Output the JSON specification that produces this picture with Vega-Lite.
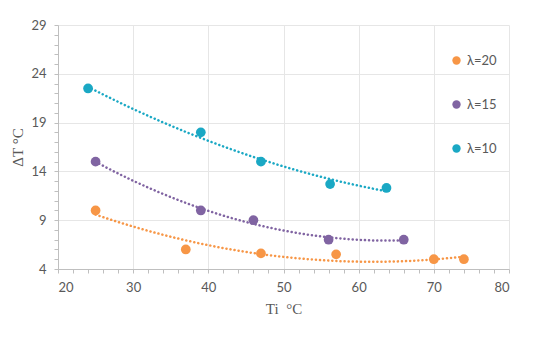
{
  "$schema": "https://vega.github.io/schema/vega-lite/v6.json",
  "width": 451,
  "height": 244,
  "autosize": {"type": "none"},
  "padding": {"left": 58, "top": 25, "right": 41, "bottom": 74},
  "background": "white",
  "config": {
    "view": {"stroke": null},
    "axis": {
      "labelFont": "Lato",
      "labelFontSize": 13,
      "labelColor": "#595959",
      "titleFont": "Liberation Serif",
      "titleFontSize": 15,
      "titleFontWeight": "normal",
      "titleColor": "#595959",
      "domainColor": "#BFBFBF",
      "tickColor": "#BFBFBF",
      "gridColor": "#E6E6E6"
    }
  },
  "data": {
    "values": [
      {"Ti": 24, "dT": 22.5, "series": "λ=10"},
      {"Ti": 39, "dT": 18, "series": "λ=10"},
      {"Ti": 47, "dT": 15, "series": "λ=10"},
      {"Ti": 56.2, "dT": 12.7, "series": "λ=10"},
      {"Ti": 63.7, "dT": 12.3, "series": "λ=10"},
      {"Ti": 25, "dT": 15, "series": "λ=15"},
      {"Ti": 39, "dT": 10, "series": "λ=15"},
      {"Ti": 46, "dT": 9, "series": "λ=15"},
      {"Ti": 56, "dT": 7, "series": "λ=15"},
      {"Ti": 66, "dT": 7, "series": "λ=15"},
      {"Ti": 25, "dT": 10, "series": "λ=20"},
      {"Ti": 37, "dT": 6, "series": "λ=20"},
      {"Ti": 47, "dT": 5.6, "series": "λ=20"},
      {"Ti": 57, "dT": 5.5, "series": "λ=20"},
      {"Ti": 70, "dT": 5, "series": "λ=20"},
      {"Ti": 74, "dT": 5, "series": "λ=20"}
    ]
  },
  "encoding": {
    "x": {
      "field": "Ti", "type": "quantitative",
      "scale": {"domain": [20, 80], "nice": false, "zero": false},
      "axis": {
        "title": "Ti\u00a0\u00a0°C",
        "values": [20,22,24,26,28,30,32,34,36,38,40,42,44,46,48,50,52,54,56,58,60,62,64,66,68,70,72,74,76,78,80],
        "labelExpr": "datum.value % 10 == 0 ? datum.label : ''",
        "gridOpacity": {"condition": {"test": "datum.value % 10 == 0", "value": 1}, "value": 0},
        "tickSize": 4,
        "labelPadding": 8,
        "titleY": 44,
        "titleBaseline": "alphabetic"
      }
    },
    "y": {
      "field": "dT", "type": "quantitative",
      "scale": {"domain": [4, 29], "nice": false, "zero": false},
      "axis": {
        "title": "ΔT °C",
        "values": [4,5,6,7,8,9,10,11,12,13,14,15,16,17,18,19,20,21,22,23,24,25,26,27,28,29],
        "labelExpr": "(datum.value - 4) % 5 == 0 ? datum.label : ''",
        "gridOpacity": {"condition": {"test": "(datum.value - 4) % 5 == 0", "value": 1}, "value": 0},
        "tickSize": 4,
        "labelPadding": 8,
        "titleX": -41,
        "titleY": 122,
        "titleBaseline": "middle",
        "titleAngle": -90
      }
    },
    "color": {
      "field": "series", "type": "nominal",
      "scale": {"domain": ["λ=20", "λ=15", "λ=10"], "range": ["#F79646", "#8064A2", "#1AA8C4"]},
      "legend": {
        "title": null,
        "orient": "none",
        "legendX": 392,
        "legendY": 29,
        "symbolType": "circle",
        "symbolSize": 70,
        "symbolStrokeWidth": 0,
        "labelFont": "Lato",
        "labelFontSize": 13,
        "labelColor": "#595959",
        "labelOffset": 4,
        "rowPadding": 30
      }
    }
  },
  "layer": [
    {
      "transform": [
        {"regression": "dT", "on": "Ti", "groupby": ["series"], "method": "poly", "order": 2}
      ],
      "mark": {"type": "line", "strokeDash": [0.1, 4], "strokeCap": "round", "strokeWidth": 2.5},
      "encoding": {}
    },
    {
      "mark": {"type": "circle", "size": 95, "opacity": 1}
    }
  ]
}
